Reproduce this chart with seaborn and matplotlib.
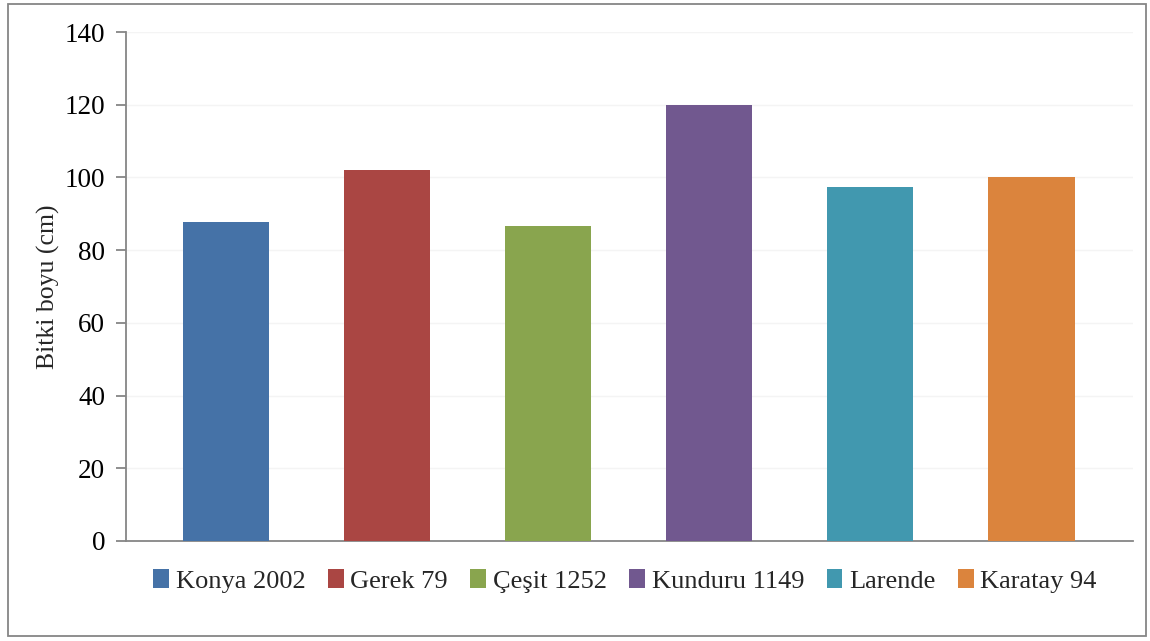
import matplotlib
matplotlib.use("Agg")
import matplotlib.pyplot as plt
import seaborn as sns
import pandas as pd
from matplotlib.patches import Rectangle, Patch

varieties = ["Konya 2002", "Gerek 79", "Çeşit 1252", "Kunduru 1149", "Larende", "Karatay 94"]
plant_height = [87.7, 102.0, 86.6, 119.9, 97.4, 100.1]
colors = ["#4572A7", "#AA4643", "#89A54E", "#71588F", "#4198AF", "#DB843D"]
y_ticks = [0, 20, 40, 60, 80, 100, 120, 140]

sns.set_theme(style="white")
plt.rcParams["font.family"] = ["Liberation Serif", "DejaVu Serif"]

df = pd.DataFrame({"Çeşit": varieties, "Bitki boyu": plant_height})

fig = plt.figure(figsize=(11.5, 6.41), dpi=100)
ax = fig.add_axes([126 / 1150, 1 - 541 / 641, (1133 - 126) / 1150, (541 - 32) / 641])

sns.barplot(data=df, x="Çeşit", y="Bitki boyu", hue="Çeşit", palette=colors,
            order=varieties, hue_order=varieties, width=0.535, saturation=1,
            legend=False, ax=ax, zorder=3, edgecolor="none", linewidth=0)

ax.set_xlim(-0.62, 5.63)
ax.set_ylim(0, 140)
ax.set_yticks(y_ticks)
ax.set_yticklabels([str(t) for t in y_ticks], fontsize=19.5)
ax.set_xticks([])
ax.set_xlabel("")
ax.set_ylabel("Bitki boyu (cm)", fontsize=18.5, labelpad=3)

ax.yaxis.grid(True, color="#F4F4F4", linewidth=1, zorder=0)
ax.set_axisbelow(True)
for side in ["top", "right"]:
    ax.spines[side].set_visible(False)
for side in ["left", "bottom"]:
    ax.spines[side].set_color("#868686")
    ax.spines[side].set_linewidth(1.3)
ax.tick_params(axis="y", which="both", left=True, length=7, width=1.3,
               color="#868686", pad=8, labelcolor="black")

handles = [Patch(facecolor=c, edgecolor="none", label=v) for v, c in zip(varieties, colors)]
fig.legend(handles=handles, loc="center", bbox_to_anchor=(625 / 1150, 1 - 581 / 641),
           ncol=6, frameon=False, fontsize=19, handlelength=0.6, handleheight=0.75,
           handletextpad=0.25, columnspacing=0.85)

border = Rectangle((8 / 1150, 1 - 636 / 641), 1138 / 1150, 632 / 641,
                   transform=fig.transFigure, fill=False, edgecolor="#868686",
                   linewidth=1.3)
fig.patches.append(border)

fig.savefig("out.png", dpi=100)
